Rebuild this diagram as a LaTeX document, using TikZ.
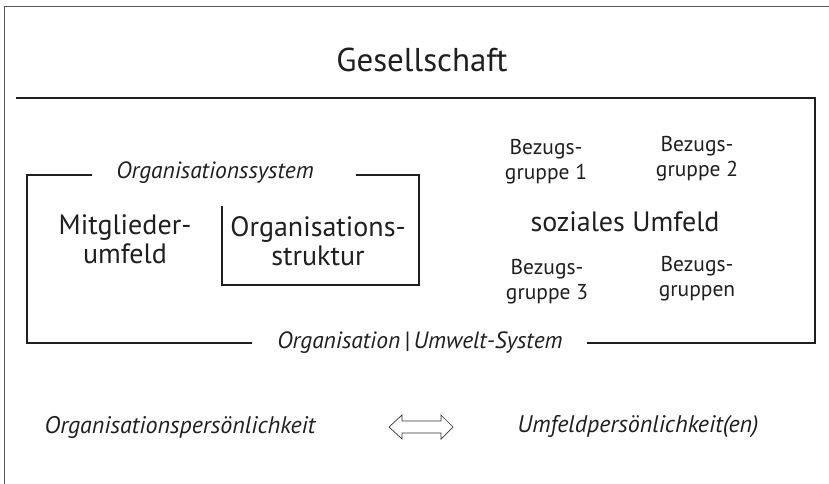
\documentclass[tikz,border=0pt]{standalone}
\usepackage{fontspec}
\setmainfont{PT Sans}
\begin{document}
\begin{tikzpicture}[x=1pt,y=-1pt,
  frame/.style={draw=black!65,line width=1pt},
  boxline/.style={draw=black!88,line width=2pt},
  txt/.style={inner sep=0pt,text=black!88,align=center},
  big/.style={txt,font=\fontsize{28}{29}\selectfont},
  small/.style={txt,font=\fontsize{21.5}{25}\selectfont},
  ital/.style={txt,font=\fontsize{23.5}{24}\selectfont\itshape}]
\useasboundingbox (0,0) rectangle (829,484);
% outer frame
\draw[frame] (4,490) -- (4,7) -- (835,7);
% Gesellschaft
\node[txt,font=\fontsize{33}{34}\selectfont] (ges) at (422,60) {Gesellschaft};
% Organisation|Umwelt-System box
\draw[boxline] (16,98) -- (815,98) -- (815,343) -- (587,343);
\draw[boxline] (252,343) -- (27,343) -- (27,175) -- (92,175);
\draw[boxline] (356,175) -- (419,175) -- (419,285) -- (222,285) -- (222,206);
\node[ital] (orgsys) at (215,173) {Organisationssystem};
\node[ital] (ous) at (420,343) {Organisation\,|\,Umwelt-System};
% inner texts
\node[big] (mit) at (125,239) {Mitglieder-\\umfeld};
\node[big] (ost) at (318,241) {Organisations-\\struktur};
\node[big] (soz) at (625,222) {soziales Umfeld};
\node[small] (b1) at (546,162) {Bezugs-\\gruppe 1};
\node[small] (b2) at (697,159) {Bezugs-\\gruppe 2};
\node[small] (b3) at (547,282) {Bezugs-\\gruppe 3};
\node[small] (bn) at (697,279) {Bezugs-\\gruppen};
% bottom
\node[ital,font=\fontsize{24}{24}\selectfont\itshape] (op) at (180,427) {Organisationspersönlichkeit};
\node[ital,font=\fontsize{24}{24}\selectfont\itshape] (up) at (638,427) {Umfeldpersönlichkeit(en)};
\draw[draw=black!80,line width=0.7pt,line join=miter]
  (389,427) -- (402,415) -- (402,421) -- (441,421) -- (441,415) -- (453,427)
  -- (441,439) -- (441,433) -- (402,433) -- (402,439) -- cycle;
\end{tikzpicture}
\end{document}
